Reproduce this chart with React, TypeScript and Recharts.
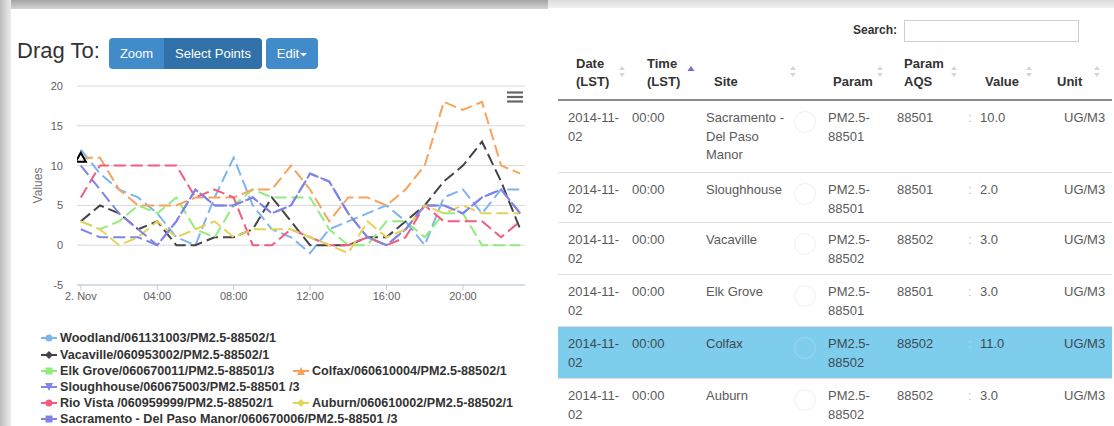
import React from 'react';
import { LineChart, Line, XAxis, YAxis, CartesianGrid } from 'recharts';

// ---------- chart data ----------
const hours = [0, 1, 2, 3, 4, 5, 6, 7, 8, 9, 10, 11, 12, 13, 14, 15, 16, 17, 18, 19, 20, 21, 22, 23];
const xTicks = [0, 4, 8, 12, 16, 20];
const xTickLabels = ['2. Nov', '04:00', '08:00', '12:00', '16:00', '20:00'];
const yTicks = [-5, 0, 5, 10, 15, 20];

const woodland = [12, 9, 7, 6, 4, 1, 0, 6, 11, 5, 2, 1, -1, 2, 3, 4, 5, 3, 0, 6, 7, 4, 7, 7];
const vacaville = [3, 5, 4, 2, 3, 0, 0, 1, 1, 2, 6, 3, 0, 0, 0, 1, 1, 3, 5, 8, 10, 13, 8, 2];
const elkGrove = [3, 2, 3, 5, 4, 6, 2, 1, 5, 7, 6, 6, 6, 2, 0, 0, 3, 3, 1, 4, 4, 0, 0, 0];
const colfax = [11, 11, 7, 5, 5, 5, 6, 6, 6, 7, 7, 10, 7, 3, 6, 6, 5, 7, 10, 18, 17, 18, 10, 9];
const sloughhouse = [2, 1, 1, 1, 0, 3, 7, 5, 5, 6, 4, 5, 9, 8, 4, 1, 0, 2, 5, 5, 4, 6, 7, 4];
const rioVista = [6, 10, 10, 10, 10, 10, 6, 7, 6, 0, 0, 2, 1, 0, 0, 1, 0, 1, 5, 3, 3, 3, 1, 3];
const auburn = [3, 2, 0, 1, 3, 1, 2, 3, 1, 2, 2, 2, 1, 0, -1, 3, 1, 2, 5, 4, 5, 4, 4, 4];
const sacramento = [10, 7, 4, 2, 0, 3, 7, 5, 5, 6, 4, 5, 9, 8, 4, 1, 0, 2, 5, 5, 4, 6, 7, 4];

const seriesNames = [
  'Woodland/061131003/PM2.5-88502/1',
  'Vacaville/060953002/PM2.5-88502/1',
  'Elk Grove/060670011/PM2.5-88501/3',
  'Colfax/060610004/PM2.5-88502/1',
  'Sloughhouse/060675003/PM2.5-88501 /3',
  'Rio Vista /060959999/PM2.5-88502/1',
  'Auburn/060610002/PM2.5-88502/1',
  'Sacramento - Del Paso Manor/060670006/PM2.5-88501 /3',
];
const seriesValues = [woodland, vacaville, elkGrove, colfax, sloughhouse, rioVista, auburn, sacramento];
const seriesColors = ['#7cb5ec', '#434348', '#90ed7d', '#f7a35c', '#8085e9', '#f15c80', '#e4d354', '#7f83e6'];
const seriesSymbols = ['circle', 'diamond', 'square', 'triangle', 'triangle-down', 'circle', 'diamond', 'square'];

// ---------- table data ----------
const tableDates = ['2014-11-02', '2014-11-02', '2014-11-02', '2014-11-02', '2014-11-02', '2014-11-02'];
const tableTimes = ['00:00', '00:00', '00:00', '00:00', '00:00', '00:00'];
const tableSites = [['Sacramento -', 'Del Paso', 'Manor'], ['Sloughhouse'], ['Vacaville'], ['Elk Grove'], ['Colfax'], ['Auburn']];
const tableParams = ['PM2.5-88501', 'PM2.5-88501', 'PM2.5-88502', 'PM2.5-88501', 'PM2.5-88502', 'PM2.5-88502'];
const tableAqs = ['88501', '88501', '88502', '88501', '88502', '88502'];
const tableValues = ['10.0', '2.0', '3.0', '3.0', '11.0', '3.0'];
const tableUnits = ['UG/M3', 'UG/M3', 'UG/M3', 'UG/M3', 'UG/M3', 'UG/M3'];
const highlightedRow = 4;

const chartData = hours.map((h, i) => {
  const row: Record<string, number> = { hour: h };
  seriesValues.forEach((vals, s) => {
    row['s' + s] = vals[i];
  });
  return row;
});

const FONT = '"Liberation Sans", Arial, Helvetica, sans-serif';

const ColfaxDot = (props: any) => {
  const { cx, cy, index } = props;
  if (index !== 0) return <g key={'cd' + index} />;
  return (
    <path
      key="cd0"
      d={`M${cx} ${cy - 5} L${cx + 5} ${cy + 4} L${cx - 5} ${cy + 4} Z`}
      fill="#ffffff"
      stroke="#000000"
      strokeWidth={2}
    />
  );
};

const LegendSymbol = ({ color, symbol }: { color: string; symbol: string }) => {
  let shape: React.ReactNode = null;
  if (symbol === 'circle') shape = <circle cx={8} cy={6} r={3.5} fill={color} />;
  else if (symbol === 'diamond') shape = <path d="M8 2 L12 6 L8 10 L4 6 Z" fill={color} />;
  else if (symbol === 'square') shape = <rect x={4.5} y={2.5} width={7} height={7} fill={color} />;
  else if (symbol === 'triangle') shape = <path d="M8 2 L12 10 L4 10 Z" fill={color} />;
  else shape = <path d="M4 2 L12 2 L8 10 Z" fill={color} />;
  return (
    <svg width={16} height={12} style={{ display: 'block' }}>
      <line x1={0} y1={6} x2={16} y2={6} stroke={color} strokeWidth={2} />
      {shape}
    </svg>
  );
};

const legendPos = [
  [41, 338], [41, 354.5], [41, 371], [293, 371], [41, 387], [41, 403], [293, 403], [41, 419],
];

const SortIcon = ({ x, active }: { x: number; active?: boolean }) => (
  <svg style={{ position: 'absolute', left: x - 4, top: 64 }} width={8} height={16}>
    {active ? (
      <path d="M0.5 7 L4 2 L7.5 7 Z" fill="#6f6fdc" />
    ) : (
      <>
        <path d="M1 6 L4 2 L7 6 Z" fill="#d6d6d6" />
        <path d="M1 9 L4 13 L7 9 Z" fill="#d6d6d6" />
      </>
    )}
  </svg>
);

const splitDash = (s: string) => {
  const idx = s.indexOf('-');
  return [s.slice(0, idx + 1), s.slice(idx + 1)];
};

export default function App() {
  const rowHeights = [72, 50, 52, 52, 52, 52];
  const rowTops: number[] = [];
  let acc = 100;
  rowHeights.forEach((h) => {
    rowTops.push(acc);
    acc += h;
  });

  return (
    <div
      style={{
        position: 'absolute',
        left: 0,
        top: 0,
        width: 1114,
        height: 426,
        overflow: 'hidden',
        background: '#ffffff',
        fontFamily: FONT,
      }}
    >
      {/* page chrome */}
      <div style={{ position: 'absolute', left: 0, top: 0, width: 548, height: 9, background: 'linear-gradient(#a4a4a4, #d4d4d4)' }} />
      <div style={{ position: 'absolute', left: 548, top: 0, width: 566, height: 8, background: 'linear-gradient(#dcdcdc, #f0f0f0)' }} />
      <div style={{ position: 'absolute', left: 0, top: 0, width: 11, height: 426, background: 'linear-gradient(to right, #bdbdbd, #ececec)' }} />

      {/* toolbar */}
      <div style={{ position: 'absolute', left: 17, top: 36, fontSize: 22, color: '#333', lineHeight: '30px' }}>Drag To:</div>
      <div
        style={{
          position: 'absolute', left: 109, top: 38, width: 55, height: 31, background: '#428bca',
          borderRadius: '4px 0 0 4px', color: '#fff', fontSize: 13, lineHeight: '31px', textAlign: 'center',
        }}
      >
        Zoom
      </div>
      <div
        style={{
          position: 'absolute', left: 164, top: 38, width: 98, height: 31, background: '#3071a9',
          borderRadius: '0 4px 4px 0', color: '#fff', fontSize: 13, lineHeight: '31px', textAlign: 'center',
        }}
      >
        Select Points
      </div>
      <div
        style={{
          position: 'absolute', left: 266, top: 38, width: 52, height: 31, background: '#428bca',
          borderRadius: 4, color: '#fff', fontSize: 13, lineHeight: '31px', textAlign: 'center',
        }}
      >
        Edit
        <svg width={7} height={5} style={{ marginLeft: 1, verticalAlign: 'middle' }}>
          <path d="M0 1 L7 1 L3.5 4.5 Z" fill="#fff" />
        </svg>
      </div>

      {/* chart */}
      <div style={{ position: 'absolute', left: 0, top: 70 }}>
        <LineChart width={540} height={240} data={chartData} margin={{ top: 16, right: 15, bottom: 5, left: 30 }}>
          <CartesianGrid horizontal vertical={false} stroke="#d8d8d8" />
          <XAxis
            dataKey="hour"
            type="number"
            domain={[-0.2, 23.25]}
            allowDataOverflow
            ticks={xTicks}
            tickFormatter={(v: number) => xTickLabels[xTicks.indexOf(v)]}
            height={20}
            tickSize={5}
            tickMargin={2}
            axisLine={{ stroke: '#c0d0e0' }}
            tickLine={{ stroke: '#c0d0e0' }}
            tick={{ fill: '#606060', fontSize: 11 }}
          />
          <YAxis
            type="number"
            domain={[-5, 20]}
            ticks={yTicks}
            width={47}
            axisLine={false}
            tickLine={false}
            tickMargin={8}
            tick={{ fill: '#606060', fontSize: 11 }}
            label={{ value: 'Values', angle: -90, position: 'insideLeft', offset: 8, style: { textAnchor: 'middle', fill: '#707070', fontSize: 12 } }}
          />
          {seriesValues.map((_, s) => (
            <Line
              key={s}
              type="linear"
              dataKey={'s' + s}
              stroke={seriesColors[s]}
              strokeWidth={2}
              strokeDasharray="12 5"
              dot={s === 3 ? ColfaxDot : false}
              activeDot={false}
              isAnimationActive={false}
            />
          ))}
        </LineChart>
      </div>

      {/* context menu icon */}
      <svg style={{ position: 'absolute', left: 506, top: 90 }} width={18} height={14}>
        <line x1={1} y1={2.5} x2={17} y2={2.5} stroke="#666" strokeWidth={2.2} />
        <line x1={1} y1={7} x2={17} y2={7} stroke="#666" strokeWidth={2.2} />
        <line x1={1} y1={11.5} x2={17} y2={11.5} stroke="#666" strokeWidth={2.2} />
      </svg>

      {/* legend */}
      {seriesNames.map((name, s) => (
        <div
          key={name}
          style={{
            position: 'absolute', left: legendPos[s][0], top: legendPos[s][1] - 8, height: 16,
            display: 'flex', alignItems: 'center', whiteSpace: 'nowrap',
          }}
        >
          <LegendSymbol color={seriesColors[s]} symbol={seriesSymbols[s]} />
          <span style={{ marginLeft: 3, fontSize: 12.6, fontWeight: 'bold', color: '#333' }}>{name}</span>
        </div>
      ))}

      {/* table */}
      <div style={{ position: 'absolute', left: 558, top: 0, width: 556, height: 426, fontSize: 13 }}>
        <div style={{ position: 'absolute', right: 217, top: 21, fontSize: 12, fontWeight: 'bold', color: '#333', lineHeight: '18px' }}>Search:</div>
        <div style={{ position: 'absolute', left: 346, top: 20, width: 173, height: 20, border: '1px solid #cfcfcf', background: '#fff' }} />

        {/* header */}
        <div style={{ position: 'absolute', left: 18, top: 55, fontWeight: 'bold', color: '#333', lineHeight: '18px' }}>Date<br />(LST)</div>
        <div style={{ position: 'absolute', left: 89, top: 55, fontWeight: 'bold', color: '#333', lineHeight: '18px' }}>Time<br />(LST)</div>
        <div style={{ position: 'absolute', left: 156, top: 73, fontWeight: 'bold', color: '#333', lineHeight: '18px' }}>Site</div>
        <div style={{ position: 'absolute', left: 275, top: 73, fontWeight: 'bold', color: '#333', lineHeight: '18px' }}>Param</div>
        <div style={{ position: 'absolute', left: 346, top: 55, fontWeight: 'bold', color: '#333', lineHeight: '18px' }}>Param<br />AQS</div>
        <div style={{ position: 'absolute', left: 427, top: 73, fontWeight: 'bold', color: '#333', lineHeight: '18px' }}>Value</div>
        <div style={{ position: 'absolute', left: 499, top: 73, fontWeight: 'bold', color: '#333', lineHeight: '18px' }}>Unit</div>
        <SortIcon x={64} />
        <SortIcon x={133} active />
        <SortIcon x={235} />
        <SortIcon x={322} />
        <SortIcon x={396} />
        <SortIcon x={471} />
        <SortIcon x={539} />
        <div style={{ position: 'absolute', left: 0, top: 99, width: 554, height: 2, background: '#8a8a8a' }} />

        {/* rows */}
        {tableSites.map((siteLines, r) => {
          const top = rowTops[r];
          const h = rowHeights[r];
          const hl = r === highlightedRow;
          const textStyle: React.CSSProperties = { position: 'absolute', top: top + 9, lineHeight: '18.5px', color: hl ? '#3d4a52' : '#5a5a5a', whiteSpace: 'nowrap' };
          const [d1, d2] = [tableDates[r].slice(0, 8), tableDates[r].slice(8)];
          const [p1, p2] = splitDash(tableParams[r]);
          return (
            <React.Fragment key={r}>
              <div
                style={{
                  position: 'absolute', left: 0, top: top + (r === 0 ? 1 : 0), width: 554, height: h - (r === 0 ? 1 : 0),
                  background: hl ? '#7ecdec' : '#fff', borderTop: r === 0 ? 'none' : '1px solid #dedede', boxSizing: 'border-box',
                }}
              />
              <div style={{ ...textStyle, left: 10 }}>{d1}<br />{d2}</div>
              <div style={{ ...textStyle, left: 74 }}>{tableTimes[r]}</div>
              <div style={{ ...textStyle, left: 148 }}>
                {siteLines.map((l, i) => (
                  <React.Fragment key={i}>{i > 0 && <br />}{l}</React.Fragment>
                ))}
              </div>
              <div
                style={{
                  position: 'absolute', left: 236, top: top + 11, width: 22, height: 22, borderRadius: 11,
                  border: hl ? '1px solid #9bd6ee' : '1px solid #f0f0f0', boxSizing: 'border-box',
                }}
              />
              <div style={{ ...textStyle, left: 270 }}>{p1}<br />{p2}</div>
              <div style={{ ...textStyle, left: 339 }}>{tableAqs[r]}</div>
              <div style={{ ...textStyle, left: 410, color: hl ? '#a8dcf0' : '#c4c4c4' }}>:</div>
              <div style={{ ...textStyle, left: 422 }}>{tableValues[r]}</div>
              <div style={{ ...textStyle, left: 506 }}>{tableUnits[r]}</div>
            </React.Fragment>
          );
        })}
      </div>
    </div>
  );
}
